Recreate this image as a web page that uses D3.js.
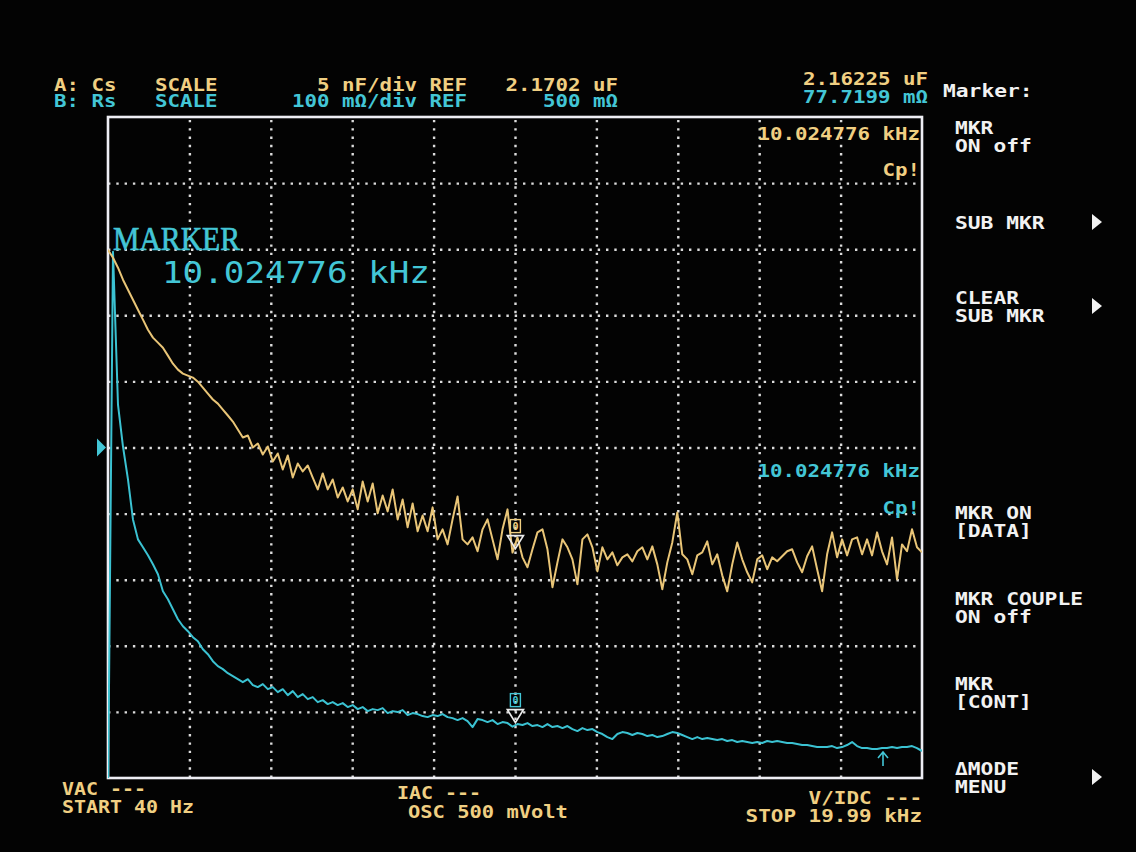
<!DOCTYPE html>
<html><head><meta charset="utf-8">
<script src="https://cdn.jsdelivr.net/npm/d3@7"></script>
<style>
html,body{margin:0;padding:0;background:#030303;}
svg{display:block;}
text{font-family:"DejaVu Sans Mono",monospace;font-weight:bold;font-size:17px;}
</style></head><body>
<svg id="scr" width="1136" height="852"></svg>
<script>
// ---- sweep settings (linear sweep) ----
const sweepStartHz = 40;
const sweepStopHz = 19990;
const sweepPoints = 164;

// ---- channel scales ----
const scaleA_perDiv = 0.005;   // uF per division (5 nF/div)
const scaleA_ref = 2.1702;     // uF at centre line
const scaleB_perDiv = 100;     // mOhm per division
const scaleB_ref = 500;        // mOhm at centre line
const divisions = 10;

// ---- trace A: Cs (uF) ----
const traceCs = [
 2.18516,2.18455,2.18380,2.18289,2.18213,2.18138,2.18062,2.17987,2.17911,2.17851,
 2.17813,2.17775,2.17715,2.17654,2.17609,2.17579,2.17564,2.17549,2.17518,2.17473,
 2.17428,2.17383,2.17352,2.17307,2.17262,2.17216,2.17156,2.17096,2.17111,2.17020,
 2.17050,2.16967,2.17028,2.16914,2.16975,2.16854,2.16960,2.16793,2.16899,2.16839,
 2.16884,2.16793,2.16703,2.16824,2.16703,2.16778,2.16642,2.16718,2.16612,2.16703,
 2.16552,2.16763,2.16612,2.16748,2.16522,2.16657,2.16537,2.16703,2.16476,2.16627,
 2.16416,2.16597,2.16386,2.16506,2.16386,2.16567,2.16325,2.16401,2.16287,2.16476,
 2.16650,2.16325,2.16287,2.16340,2.16235,2.16401,2.16476,2.16325,2.16174,2.16401,
 2.16552,2.16225,2.16340,2.16189,2.16114,2.16250,2.16378,2.16401,2.16250,2.15963,
 2.16151,2.16325,2.16265,2.16174,2.15985,2.16325,2.16363,2.16265,2.16083,2.16265,
 2.16174,2.16227,2.16129,2.16189,2.16212,2.16159,2.16235,2.16265,2.16174,2.16272,
 2.16136,2.15948,2.16151,2.16302,2.16529,2.16212,2.16174,2.16061,2.16204,2.16227,
 2.16310,2.16136,2.16212,2.16053,2.15932,2.16136,2.16302,2.16174,2.16076,2.16000,
 2.16174,2.16204,2.16099,2.16189,2.16159,2.16197,2.16235,2.16250,2.16151,2.16076,
 2.16197,2.16272,2.16099,2.15932,2.16212,2.16378,2.16189,2.16325,2.16204,2.16325,
 2.16340,2.16212,2.16325,2.16204,2.16378,2.16235,2.16136,2.16340,2.16023,2.16287,
 2.16235,2.16401,2.16265,2.16227
];

// ---- trace B: Rs (mOhm) ----
const traceRs = [
 -30.0,796.1,565.0,501.5,451.7,391.2,361.0,349.0,336.9,323.3,
 308.2,282.5,270.4,255.3,240.2,229.6,222.1,213.0,207.0,194.9,
 187.3,176.7,169.2,164.7,158.6,154.1,149.5,145.0,149.5,140.5,
 137.5,142.0,134.4,137.5,129.9,134.4,125.4,131.4,122.4,126.9,
 119.3,122.4,114.8,117.8,111.8,114.8,110.3,113.3,107.3,110.3,
 104.2,107.3,101.2,104.2,102.7,105.7,98.2,101.2,99.7,102.7,
 95.2,98.2,96.7,93.7,92.1,95.2,93.7,96.7,92.1,90.6,
 87.6,90.6,86.1,77.0,89.1,87.6,84.6,87.6,81.6,84.6,
 83.1,77.7,81.6,80.1,83.1,78.6,80.1,77.0,81.6,77.0,
 78.6,75.5,78.6,74.0,71.0,75.5,72.5,74.0,69.5,66.5,
 61.9,58.9,66.5,69.5,68.0,65.0,68.0,66.5,63.4,65.0,
 61.9,63.4,66.5,69.5,68.0,65.0,61.9,58.9,61.9,58.9,
 60.4,58.9,57.4,58.9,55.9,57.4,54.4,55.9,54.4,52.9,
 54.4,52.9,55.9,54.4,55.9,54.4,52.9,52.9,51.4,49.9,
 49.9,48.3,46.8,46.8,46.8,48.3,45.3,46.8,49.9,54.4,
 48.3,45.3,45.3,43.8,43.8,45.3,45.3,46.8,45.3,46.8,
 46.8,48.3,45.3,40.8
];

// ---- marker readout ----
const markerFreqHz = 10024.776;
const markerCs = 2.16225;   // uF
const markerRs = 77.7199;   // mOhm

// ---- on-screen texts ----
const headerRowA = ["A: Cs", "SCALE", "5 nF/div REF", "2.1702 uF"];
const headerRowB = ["B: Rs", "SCALE", "100 m\u03a9/div REF", "500 m\u03a9"];
const readoutTexts = ["2.16225 uF", "77.7199 m\u03a9"];
const markerFreqText = "10.024776 kHz";
const menuItems = [
  ["MKR", "ON off"],
  ["SUB MKR"],
  ["CLEAR", "SUB MKR"],
  ["MKR ON", "[DATA]"],
  ["MKR COUPLE", "ON off"],
  ["MKR", "[CONT]"],
  ["\u0394MODE", "MENU"]
];
const menuHasArrow = [false, true, true, false, false, false, true];
const footerTexts = ["VAC ---", "START 40 Hz", "IAC ---", "OSC 500 mVolt", "V/IDC ---", "STOP 19.99 kHz"];

// ---- colours ----
const colA = "#f0cf82", colATrace = "#e9c577";
const colB = "#43c6d6", colBTrace = "#3bc2d2";
const colW = "#f2f2f2";

const svg = d3.select("#scr");
const plot = {left: 108, right: 922, top: 117, bottom: 778};
const CW = 12.5; // character cell width

const sweepFreqs = d3.range(sweepPoints).map(i =>
  sweepStartHz + i * (sweepStopHz - sweepStartHz) / (sweepPoints - 1));

const x = d3.scaleLinear().domain([sweepStartHz, sweepStopHz]).range([plot.left, plot.right]);
const yA = d3.scaleLinear()
  .domain([scaleA_ref - scaleA_perDiv * divisions / 2, scaleA_ref + scaleA_perDiv * divisions / 2])
  .range([plot.bottom, plot.top]);
const yB = d3.scaleLinear()
  .domain([scaleB_ref - scaleB_perDiv * divisions / 2, scaleB_ref + scaleB_perDiv * divisions / 2])
  .range([plot.bottom, plot.top]);

function label(g, px, py, s, color, opts = {}) {
  const cw = opts.cw || CW;
  const w = s.length * cw;
  const x0 = opts.anchor === "end" ? px - w : px;
  return g.append("text")
    .attr("x", x0).attr("y", py)
    .attr("fill", color)
    .attr("textLength", w)
    .attr("lengthAdjust", "spacingAndGlyphs")
    .text(s);
}

// ---- dotted graticule drawn with axes ----
const gridX = d3.range(1, divisions).map(i => sweepStartHz + i * (sweepStopHz - sweepStartHz) / divisions);
const gridY = d3.range(1, divisions).map(i => yB.domain()[0] + i * scaleB_perDiv);

const gx = svg.append("g")
  .attr("transform", `translate(0,${plot.bottom})`)
  .call(d3.axisBottom(x).tickValues(gridX).tickSize(-(plot.bottom - plot.top)).tickFormat(""));
const gy = svg.append("g")
  .attr("transform", `translate(${plot.left},0)`)
  .call(d3.axisLeft(yB).tickValues(gridY).tickSize(-(plot.right - plot.left)).tickFormat(""));
[gx, gy].forEach(g => {
  g.select(".domain").remove();
  g.selectAll(".tick line")
    .attr("stroke", "#dcdcdc")
    .attr("stroke-width", 2.4)
    .attr("stroke-dasharray", "2.4 5.9");
});

// ---- frame ----
svg.append("rect")
  .attr("x", plot.left).attr("y", plot.top)
  .attr("width", plot.right - plot.left).attr("height", plot.bottom - plot.top)
  .attr("fill", "none").attr("stroke", "#eeeef4").attr("stroke-width", 2.6);

// ---- traces ----
svg.append("clipPath").attr("id", "plotClip")
  .append("rect")
  .attr("x", plot.left).attr("y", plot.top)
  .attr("width", plot.right - plot.left).attr("height", plot.bottom - plot.top);

const lineA = d3.line().x((d, i) => x(sweepFreqs[i])).y(d => yA(d));
const lineB = d3.line().x((d, i) => x(sweepFreqs[i])).y(d => yB(d));

const traces = svg.append("g").attr("clip-path", "url(#plotClip)");
traces.append("path").datum(traceRs).attr("d", lineB)
  .attr("fill", "none").attr("stroke", colBTrace).attr("stroke-width", 2).attr("stroke-linejoin", "round");
traces.append("path").datum(traceCs).attr("d", lineA)
  .attr("fill", "none").attr("stroke", colATrace).attr("stroke-width", 2).attr("stroke-linejoin", "round");

// ---- reference pointer for channel B ----
svg.append("path")
  .attr("d", `M${plot.left - 11},${yB(scaleB_ref) - 9} L${plot.left - 2},${yB(scaleB_ref)} L${plot.left - 11},${yB(scaleB_ref) + 9} Z`)
  .attr("fill", colB);

// ---- marker glyphs ----
function markerGlyph(px, py, color) {
  const g = svg.append("g");
  const apex = py - 4;
  g.append("path")
    .attr("d", `M${px - 8},${apex - 13} L${px + 8},${apex - 13} L${px},${apex} Z`)
    .attr("fill", "none").attr("stroke", "#ececec").attr("stroke-width", 1.7);
  g.append("rect")
    .attr("x", px - 5).attr("y", apex - 29).attr("width", 10).attr("height", 13)
    .attr("fill", "none").attr("stroke", color).attr("stroke-width", 1.4);
  g.append("text").attr("x", px).attr("y", apex - 18.5)
    .attr("text-anchor", "middle").attr("fill", color)
    .style("font-size", "10px").text("0");
}
markerGlyph(x(markerFreqHz), yA(markerCs), colA);
markerGlyph(x(markerFreqHz), yB(markerRs), colB);

// sweep-end pointer on trace B
svg.append("path")
  .attr("d", "M883,766 L883,753 M878,758 L883,752 L888,758")
  .attr("fill", "none").attr("stroke", colB).attr("stroke-width", 1.6);

// ---- header ----
const hdr = svg.append("g");
[[headerRowA, colA, 91], [headerRowB, colB, 107]].forEach(([row, c, by]) => {
  label(hdr, 54, by, row[0], c);
  label(hdr, 155, by, row[1], c);
  label(hdr, 467, by, row[2], c, {anchor: "end"});
  label(hdr, 618, by, row[3], c, {anchor: "end"});
});
label(hdr, 928, 85, readoutTexts[0], colA, {anchor: "end"});
label(hdr, 928, 103, readoutTexts[1], colB, {anchor: "end"});
label(hdr, 943, 97, "Marker:", colW, {cw: 12.8});

// ---- in-graticule marker readouts ----
label(svg, plot.right - 2, 140, markerFreqText, colA, {anchor: "end"});
label(svg, plot.right - 2, 176, "Cp!", colA, {anchor: "end"});
label(svg, plot.right - 2, 477, markerFreqText, colB, {anchor: "end"});
label(svg, plot.right - 2, 514, "Cp!", colB, {anchor: "end"});

svg.append("text").attr("x", 113).attr("y", 250)
  .attr("fill", colB).attr("stroke", colB).attr("stroke-width", 0.7)
  .attr("textLength", 127).attr("lengthAdjust", "spacingAndGlyphs")
  .style("font-family", '"Liberation Serif","DejaVu Serif",serif')
  .style("font-weight", "normal").style("font-size", "34px")
  .text("MARKER");
svg.append("text").attr("x", 162).attr("y", 283)
  .attr("fill", colB)
  .attr("textLength", 268).attr("lengthAdjust", "spacingAndGlyphs")
  .style("font-weight", "normal").style("font-size", "31px")
  .text(markerFreqText);

// ---- soft-key menu ----
const menuBaselines = [134, 229, 304, 519, 605, 690, 775];
const menu = svg.append("g");
menuItems.forEach((lines, k) => {
  const by = menuBaselines[k];
  lines.forEach((s, j) => {
    const base = lines.length === 1 ? by : by + j * 18;
    label(menu, 955, base, s, colW, {cw: 12.8});
  });
  if (menuHasArrow[k]) {
    const cy = lines.length === 1 ? by - 7 : by + 2;
    menu.append("path")
      .attr("d", `M1092,${cy - 8} L1102,${cy} L1092,${cy + 8} Z`)
      .attr("fill", colW);
  }
});

// ---- footer ----
const ft = svg.append("g");
label(ft, 62, 795, footerTexts[0], colA, {cw: 12});
label(ft, 62, 813, footerTexts[1], colA, {cw: 12});
label(ft, 397, 799, footerTexts[2], colA, {cw: 12});
label(ft, 408, 818, footerTexts[3], colA, {cw: 12.3});
label(ft, 922, 804, footerTexts[4], colA, {anchor: "end", cw: 12.6});
label(ft, 922, 822, footerTexts[5], colA, {anchor: "end", cw: 12.6});
</script>
</body></html>
